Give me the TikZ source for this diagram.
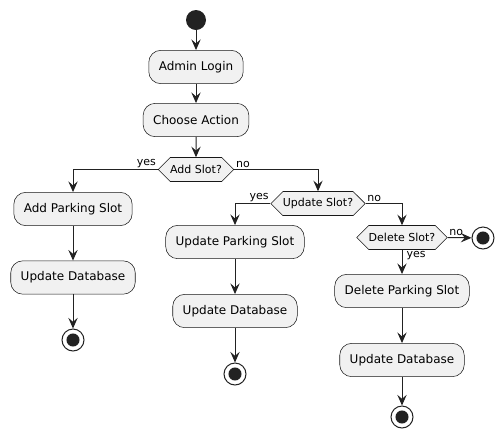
\documentclass[tikz,border=0pt]{standalone}
\usepackage{fontspec}
\setmainfont{DejaVu Sans}
\usepackage{xcolor}
\usepackage{tikz}
\usetikzlibrary{shapes.symbols,arrows.meta}
\definecolor{slotgray}{RGB}{241,241,241}
\definecolor{flowink}{RGB}{34,34,34}
\definecolor{edgegray}{RGB}{24,24,24}
\newcommand{\boxfont}{\fontsize{9}{11}\selectfont}
\newcommand{\askfont}{\fontsize{8.25}{10}\selectfont}

\begin{document}
\begin{tikzpicture}[x=0.75pt,y=-0.75pt,
    action/.style={draw=edgegray,line width=0.4pt,fill=slotgray,rounded corners=9pt,font=\boxfont,inner xsep=7.5pt,minimum height=25pt},
    ask/.style={signal,signal to=east and west,signal pointer angle=90,draw=edgegray,line width=0.4pt,fill=slotgray,font=\askfont,inner xsep=0pt,minimum height=18pt},
    flow/.style={draw=flowink,line width=0.75pt,-{Stealth[length=8pt,width=7pt,inset=3pt]}},
    branch/.style={font=\askfont,inner sep=1pt},
    startdot/.style={circle,fill=flowink,minimum size=15pt,inner sep=0pt},
    stopdot/.style={circle,draw=flowink,line width=0.75pt,fill=white,minimum size=16.5pt,inner sep=0pt,
        path picture={\fill[flowink] (path picture bounding box.center) circle (4.9pt);}}]
    \useasboundingbox (0,0) rectangle (504,437);

    % Login and choice
    \node[startdot] (start) at (196,20) {};
    \node[action] (login) at (196,67) {Admin Login};
    \node[action] (choose) at (196,120) {Choose Action};
    \node[ask] (addq) at (196,169.5) {Add Slot?};

    % Add branch
    \node[action] (addp) at (73,209) {Add Parking Slot};
    \node[action] (adddb) at (73,277.5) {Update Database};
    \node[stopdot] (addend) at (73,340) {};

    % Update branch
    \node[ask] (updq) at (318,203.5) {Update Slot?};
    \node[action] (updp) at (235,242) {Update Parking Slot};
    \node[action] (upddb) at (235,311) {Update Database};
    \node[stopdot] (updend) at (235,374) {};

    % Delete branch
    \node[ask] (delq) at (402,237.5) {Delete Slot?};
    \node[stopdot] (noend) at (483,238) {};
    \node[action] (delp) at (402,291) {Delete Parking Slot};
    \node[action] (deldb) at (402,360) {Update Database};
    \node[stopdot] (delend) at (402,417) {};

    % Flow
    \draw[flow] (start) -- (login);
    \draw[flow] (login) -- (choose);
    \draw[flow] (choose) -- (addq);
    \draw[flow] (addq.west) -| (addp.north) node[pos=0,branch,anchor=south east] {yes};
    \draw[flow] (addq.east) -| (updq.north) node[pos=0,branch,anchor=south west] {no};
    \draw[flow] (addp) -- (adddb);
    \draw[flow] (adddb) -- (addend);
    \draw[flow] (updq.west) -| (updp.north) node[pos=0,branch,anchor=south east] {yes};
    \draw[flow] (updq.east) -| (delq.north) node[pos=0,branch,anchor=south west] {no};
    \draw[flow] (updp) -- (upddb);
    \draw[flow] (upddb) -- (updend);
    \draw[flow] (delq.east) -- (noend) node[pos=0,branch,anchor=south west] {no};
    \draw[flow] (delq.south) -- (delp) node[pos=0,branch,anchor=north west,xshift=2pt] {yes};
    \draw[flow] (delp) -- (deldb);
    \draw[flow] (deldb) -- (delend);
\end{tikzpicture}
\end{document}
